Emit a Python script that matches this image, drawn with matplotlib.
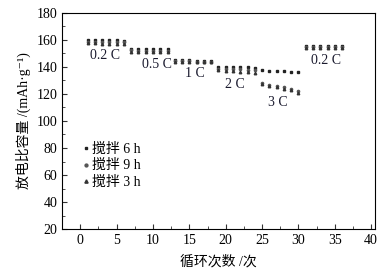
import numpy as np
import matplotlib
matplotlib.use("Agg")
from matplotlib import pyplot as plt
from matplotlib.ticker import MultipleLocator

plt.rcParams['font.family'] = ['Liberation Serif', 'Noto Sans CJK SC', 'DejaVu Serif']

cycles = np.arange(1, 37)

# discharge capacity, mAh/g
cap_6h = [159.8, 159.8, 159.7, 159.7, 159.6, 159.5,
          153.2, 153.1, 153.1, 153.0, 153.0, 152.9,
          145.0, 144.9, 144.8, 144.7, 144.6, 144.5,
          140.2, 140.1, 140.0, 139.8, 139.6, 139.5,
          137.5, 137.2, 137.0, 136.8, 136.5, 136.2,
          155.6, 155.6, 155.5, 155.5, 155.4, 155.4]
cap_9h = [158.6, 158.6, 158.5, 158.5, 158.4, 158.4,
          152.2, 152.1, 152.0, 152.0, 151.9, 151.9,
          144.2, 144.1, 144.1, 144.0, 144.0, 143.9,
          138.5, 138.4, 138.3, 138.1, 137.9, 137.7,
          128.2, 126.8, 125.8, 124.8, 123.6, 122.2,
          154.8, 154.8, 154.7, 154.7, 154.6, 154.6]
cap_3h = [157.4, 157.4, 157.3, 157.3, 157.2, 157.2,
          151.4, 151.3, 151.2, 151.2, 151.1, 151.0,
          143.8, 143.7, 143.6, 143.6, 143.5, 143.5,
          137.8, 137.3, 136.9, 136.5, 136.1, 135.8,
          127.6, 126.0, 125.0, 123.8, 122.6, 121.0,
          154.2, 154.2, 154.1, 154.1, 154.0, 154.0]

series_labels = ["搅拌 6 h", "搅拌 9 h", "搅拌 3 h"]
rate_labels = ["0.2 C", "0.5 C", "1 C", "2 C", "3 C", "0.2 C"]
rate_label_x = [3.4, 10.6, 15.8, 21.3, 27.2, 33.8]
rate_label_y = [148.5, 141.5, 135.0, 127.0, 114.0, 145.0]

fig = plt.figure(figsize=(3.88, 2.74), dpi=100)
ax = fig.add_axes([0.16, 0.164, 0.806, 0.789])

ax.plot(cycles, cap_6h, linestyle="none", marker="s", markersize=1.6, color="#222222", label=series_labels[0])
ax.plot(cycles, cap_9h, linestyle="none", marker="o", markersize=1.6, color="#555555", label=series_labels[1])
ax.plot(cycles, cap_3h, linestyle="none", marker="^", markersize=1.8, color="#333333", label=series_labels[2])

for txt, x, y in zip(rate_labels, rate_label_x, rate_label_y):
    ax.text(x, y, txt, fontsize=10, ha="center", va="center", color="#1a1a2e")

ax.set_xlim(-2.5, 40.5)
ax.set_ylim(20, 180)
ax.xaxis.set_major_locator(MultipleLocator(5))
ax.xaxis.set_minor_locator(MultipleLocator(2.5))
ax.yaxis.set_major_locator(MultipleLocator(20))
ax.yaxis.set_minor_locator(MultipleLocator(10))
ax.tick_params(which="both", direction="in", top=False, right=False, labelsize=10, color="#333333")
ax.tick_params(which="major", length=3.5)
ax.tick_params(which="minor", length=2)

ax.set_xlabel("循环次数 /次", fontsize=10, labelpad=6)
ax.set_ylabel("放电比容量 /(mAh·g⁻¹)", fontsize=10, labelpad=4)

ax.legend(loc="upper left", bbox_to_anchor=(0.035, 0.445), frameon=False, fontsize=10,
          handlelength=0.5, handletextpad=0.2, labelspacing=0.25, borderpad=0.2,
          markerscale=1.3)

fig.savefig("out.png", dpi=100)
